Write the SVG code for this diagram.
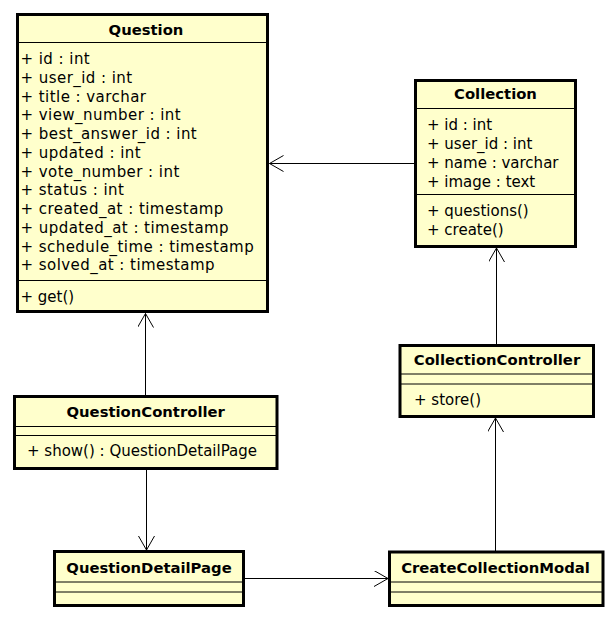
<svg xmlns="http://www.w3.org/2000/svg" width="616" height="625" viewBox="0 0 616 625">
<style>
.box{fill:#FFFFCC;stroke:#000;stroke-width:3}
.div{stroke:#000;stroke-width:1}
.t{font-family:"DejaVu Sans",sans-serif;font-size:15px;fill:#000}
.q{letter-spacing:0.45px}
.b{font-family:"DejaVu Sans",sans-serif;font-size:14.8px;font-weight:bold;fill:#000;text-anchor:middle}
.c{stroke:#000;stroke-width:1;fill:none}
</style>
<defs>
<marker id="open" markerUnits="userSpaceOnUse" markerWidth="18" markerHeight="20" refX="14" refY="8" orient="auto">
<path d="M0,0 L14,8 L0,16" fill="none" stroke="#000" stroke-width="1"/>
</marker>
</defs>
<rect width="616" height="625" fill="#fff"/>
<g id="connectors">
<line class="c" x1="414" y1="163.5" x2="269.5" y2="163.5" marker-end="url(#open)"/>
<line class="c" x1="145.5" y1="395" x2="145.5" y2="313.5" marker-end="url(#open)"/>
<line class="c" x1="146.5" y1="470" x2="146.5" y2="550" marker-end="url(#open)"/>
<line class="c" x1="245" y1="578.5" x2="388" y2="578.5" marker-end="url(#open)"/>
<line class="c" x1="495.5" y1="551" x2="495.5" y2="418" marker-end="url(#open)"/>
<line class="c" x1="496.5" y1="344" x2="496.5" y2="248" marker-end="url(#open)"/>
</g>
<g id="Question">
<rect class="box" x="17.5" y="14.5" width="250" height="297"/>
<line class="div" x1="17.5" y1="42.5" x2="267.5" y2="42.5"/>
<line class="div" x1="17.5" y1="280.5" x2="267.5" y2="280.5"/>
<text class="b" x="146" y="35">Question</text>
<text class="t q" x="20.5" y="64">+ id : int</text>
<text class="t q" x="20.5" y="82.75">+ user_id : int</text>
<text class="t q" x="20.5" y="101.5">+ title : varchar</text>
<text class="t q" x="20.5" y="120.25">+ view_number : int</text>
<text class="t q" x="20.5" y="139">+ best_answer_id : int</text>
<text class="t q" x="20.5" y="157.75">+ updated : int</text>
<text class="t q" x="20.5" y="176.5">+ vote_number : int</text>
<text class="t q" x="20.5" y="195.25">+ status : int</text>
<text class="t q" x="20.5" y="214">+ created_at : timestamp</text>
<text class="t q" x="20.5" y="232.75">+ updated_at : timestamp</text>
<text class="t q" x="20.5" y="251.5">+ schedule_time : timestamp</text>
<text class="t q" x="20.5" y="270.25">+ solved_at : timestamp</text>
<text class="t" x="20.5" y="302">+ get()</text>
</g>
<g id="Collection">
<rect class="box" x="415.5" y="80.5" width="160" height="166"/>
<line class="div" x1="415.5" y1="108.5" x2="575.5" y2="108.5"/>
<line class="div" x1="415.5" y1="194.5" x2="575.5" y2="194.5"/>
<text class="b" x="495.5" y="99">Collection</text>
<text class="t" x="427" y="129.5">+ id : int</text>
<text class="t" x="427" y="148.5">+ user_id : int</text>
<text class="t" x="427" y="167.5">+ name : varchar</text>
<text class="t" x="427" y="186.5">+ image : text</text>
<text class="t" x="427" y="215.5">+ questions()</text>
<text class="t" x="427" y="234.5">+ create()</text>
</g>
<g id="QuestionController">
<rect class="box" x="14.5" y="396.5" width="262.5" height="72"/>
<line class="div" x1="14.5" y1="426.5" x2="277" y2="426.5"/>
<line class="div" x1="14.5" y1="435.5" x2="277" y2="435.5"/>
<text class="b" x="145.7" y="417">QuestionController</text>
<text class="t" x="27" y="456">+ show() : QuestionDetailPage</text>
</g>
<g id="CollectionController">
<rect class="box" x="400" y="345.5" width="193.5" height="71"/>
<line class="div" x1="400" y1="374" x2="593.5" y2="374"/>
<line class="div" x1="400" y1="384" x2="593.5" y2="384"/>
<text class="b" x="497" y="365">CollectionController</text>
<text class="t" x="414" y="405">+ store()</text>
</g>
<g id="QuestionDetailPage">
<rect class="box" x="54.5" y="551.5" width="189" height="54"/>
<line class="div" x1="54.5" y1="582" x2="243.5" y2="582"/>
<line class="div" x1="54.5" y1="592" x2="243.5" y2="592"/>
<text class="b" x="149" y="573">QuestionDetailPage</text>
</g>
<g id="CreateCollectionModal">
<rect class="box" x="389.5" y="552" width="213.5" height="53.5"/>
<line class="div" x1="389.5" y1="582" x2="603" y2="582"/>
<line class="div" x1="389.5" y1="592" x2="603" y2="592"/>
<text class="b" x="495.5" y="573">CreateCollectionModal</text>
</g>
</svg>
